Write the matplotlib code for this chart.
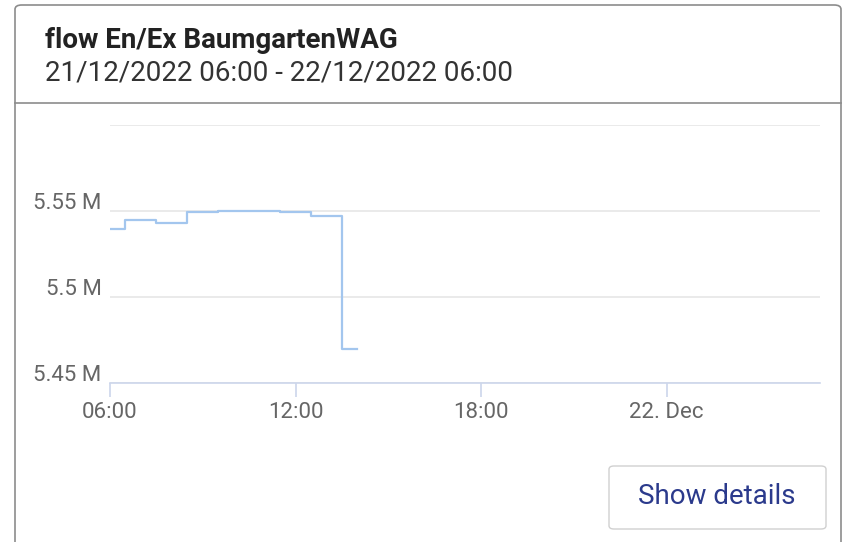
import matplotlib.pyplot as plt
from matplotlib.patches import FancyBboxPatch
from matplotlib.transforms import ScaledTranslation
from datetime import datetime, timedelta

plt.rcParams["font.family"] = ["Roboto", "DejaVu Sans"]

TITLE = "flow En/Ex BaumgartenWAG"
SUBTITLE = "21/12/2022 06:00 - 22/12/2022 06:00"

# hourly readings from 21 Dec 06:00
start = datetime(2022, 12, 21, 6, 0)
hours = [0, 1, 2, 3, 4, 5, 6, 7, 8]
flow = [5.5396, 5.5447, 5.5429, 5.5492, 5.5500, 5.5500, 5.5492, 5.5469, 5.4698]

y_ticks = [5.45, 5.50, 5.55, 5.60]
y_labels = ["5.45 M", "5.5 M", "5.55 M", ""]
x_ticks = [datetime(2022, 12, 21, 6), datetime(2022, 12, 21, 12),
           datetime(2022, 12, 21, 18), datetime(2022, 12, 22, 0)]
x_labels = ["06:00", "12:00", "18:00", "22. Dec"]

W, H = 844, 542
fig = plt.figure(figsize=(W / 100, H / 100), dpi=100)


def fx(px):
    return px / W


def fy(py):
    return 1 - py / H


# card frame (kept behind the axes)
card = FancyBboxPatch((fx(15), fy(560)), fx(826), fy(5) - fy(560),
                      boxstyle="round,pad=0,rounding_size=0.008",
                      transform=fig.transFigure, facecolor="white",
                      edgecolor="#8c8c8c", linewidth=1.2, zorder=-2)
fig.patches.append(card)
fig.add_artist(plt.Line2D([fx(15), fx(841)], [fy(103), fy(103)],
                          transform=fig.transFigure, color="#8c8c8c",
                          linewidth=1.2, zorder=-1))

fig.text(fx(45), fy(40), TITLE, fontsize=20, fontweight="bold", color="#222222", va="center")
fig.text(fx(45), fy(73), SUBTITLE, fontsize=20, color="#333333", va="center")

# plot area
ax = fig.add_axes([fx(110), fy(383), fx(820) - fx(110), fy(125) - fy(383)])
ax.patch.set_alpha(0)

times = [start + timedelta(hours=h) for h in hours]
ax.plot(times, flow, drawstyle="steps-mid", color="#a3c6ee", linewidth=1.6)

ax.set_ylim(5.45, 5.60)
ax.set_xlim(start, start + timedelta(hours=22.96))
ax.set_yticks(y_ticks)
ax.set_yticklabels(y_labels)
ax.set_xticks(x_ticks)
ax.set_xticklabels(x_labels)

ax.grid(axis="y", color="#e6e6e6", linewidth=1.2)
ax.set_axisbelow(True)
for s in ["top", "right", "left"]:
    ax.spines[s].set_visible(False)
ax.spines["bottom"].set_color("#ccd6eb")
ax.spines["bottom"].set_linewidth(1.2)

ax.tick_params(axis="y", length=0, pad=6, labelsize=16, labelcolor="#666666")
ax.tick_params(axis="x", length=10, width=1.2, color="#ccd6eb", pad=4,
               labelsize=16, labelcolor="#666666")

shift = ScaledTranslation(0, 10 / 100, fig.dpi_scale_trans)
for lab in ax.get_yticklabels():
    lab.set_transform(lab.get_transform() + shift)

# button
btn = FancyBboxPatch((fx(609), fy(529)), fx(217), fy(466) - fy(529),
                     boxstyle="round,pad=0,rounding_size=0.006",
                     transform=fig.transFigure, facecolor="white",
                     edgecolor="#d0d0d0", linewidth=1.0)
fig.patches.append(btn)
fig.text(fx(717), fy(497), "Show details", fontsize=20, color="#2b3a8c",
         ha="center", va="center")

fig.savefig("out.png", dpi=100)
